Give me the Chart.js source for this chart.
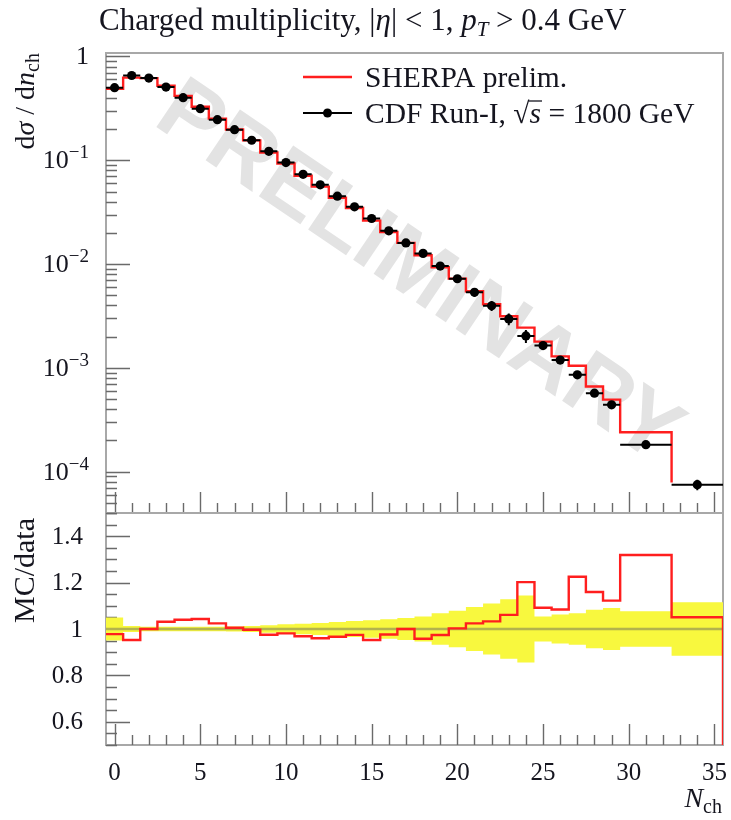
<!DOCTYPE html>
<html>
<head>
<meta charset="utf-8">
<script src="https://cdn.jsdelivr.net/npm/chart.js@4/dist/chart.umd.min.js"></script>
<style>
  html, body { margin: 0; padding: 0; background: #fff; }
  #wrap { position: relative; width: 731px; height: 820px; overflow: hidden; }
  canvas { position: absolute; left: 0; }
  #main { top: 0; }
  #ratio { top: 500px; }
</style>
</head>
<body>
<div id="wrap">
  <canvas id="main" width="731" height="520"></canvas>
  <canvas id="ratio" width="731" height="320"></canvas>
</div>
<script>
// Charged multiplicity bins (centres and edges); last two bins are 3 units wide
const nch = [0,1,2,3,4,5,6,7,8,9,10,11,12,13,14,15,16,17,18,19,20,21,22,23,24,25,26,27,28,29,31,34];
const binEdges = [-0.5,0.5,1.5,2.5,3.5,4.5,5.5,6.5,7.5,8.5,9.5,10.5,11.5,12.5,13.5,14.5,15.5,16.5,
                  17.5,18.5,19.5,20.5,21.5,22.5,23.5,24.5,25.5,26.5,27.5,28.5,29.5,32.5,35.5];

// CDF Run-I measurement, dsigma/dn_ch
const cdfData = [0.50,0.656,0.619,0.507,0.401,0.314,0.246,0.197,0.156,0.122,0.095,0.0733,0.058,0.0451,
                 0.0356,0.0275,0.0209,0.0160,0.01268,0.00957,0.00722,0.00534,0.00397,0.00296,0.00203,
                 0.00164,0.00119,0.000857,0.000571,0.000441,0.000182,0.000075];
// relative uncertainty of the measurement
const cdfRelErr = [0.05,0.013,0.01,0.01,0.01,0.01,0.01,0.011,0.013,0.016,0.02,0.023,0.026,0.03,0.034,
                   0.038,0.042,0.047,0.054,0.068,0.079,0.095,0.11,0.128,0.144,0.054,0.063,0.068,0.083,
                   0.09,0.077,0.115];
// SHERPA prediction
const sherpaMC = [0.489,0.625,0.619,0.523,0.417,0.3275,0.252,0.198,0.1555,0.119,0.0932,0.0710,0.0557,
                  0.0436,0.0347,0.0262,0.0204,0.0160,0.01215,0.00932,0.00724,0.00547,0.00410,0.00314,
                  0.00244,0.00179,0.00129,0.00105,0.000662,0.000495,0.000240,0.0000788];

// axis ticks and labels
const xTickValues = [0,5,10,15,20,25,30,35];
const xTickLabels = ['0','5','10','15','20','25','30','35'];
const logDecades = [0,-1,-2,-3,-4];
const ratioTickValues = [0.6,0.8,1,1.2,1.4];
const ratioTickLabels = ['0.6','0.8','1','1.2','1.4'];

const SERIF = '"Liberation Serif", "DejaVu Serif", serif';
const RED = '#ff1e1e';
const FRAME = '#a8a8a8';
const TICK = '#6a6a6a';
const TEXT = '#15151f';

// histogram outline as points for a stepped line
function stepPoints(vals, tail) {
  const pts = vals.map((v, i) => ({ x: binEdges[i], y: v }));
  pts.push({ x: binEdges[binEdges.length - 1], y: tail });
  return pts;
}

// draws a run of text pieces (italic / smaller / shifted) starting at x
function drawRich(ctx, x, y, parts, align) {
  const fonts = parts.map(p => (p.italic ? 'italic ' : '') + p.size + 'px ' + SERIF);
  const widths = parts.map((p, i) => { ctx.font = fonts[i]; return ctx.measureText(p.t).width; });
  const total = widths.reduce((a, b) => a + b, 0);
  let cx = align === 'right' ? x - total : (align === 'center' ? x - total / 2 : x);
  ctx.textAlign = 'left';
  ctx.textBaseline = 'alphabetic';
  const pos = [];
  parts.forEach((p, i) => {
    ctx.font = fonts[i];
    ctx.fillText(p.t, cx, y + (p.dy || 0));
    pos.push([cx, widths[i]]);
    cx += widths[i];
  });
  return pos;
}

function drawFrame(ctx, a) {
  ctx.save();
  ctx.strokeStyle = FRAME;
  ctx.lineWidth = 2;
  ctx.strokeRect(a.left, a.top, a.right - a.left, a.bottom - a.top);
  ctx.restore();
}

function drawXTicks(ctx, a, xs) {
  ctx.save();
  ctx.strokeStyle = TICK;
  ctx.lineWidth = 1.4;
  ctx.beginPath();
  for (let n = 0; n <= 35; n++) {
    const px = Math.round(xs.getPixelForValue(n)) + 0.5;
    const len = n % 5 === 0 ? 21 : 10;
    ctx.moveTo(px, a.bottom);
    ctx.lineTo(px, a.bottom - len);
  }
  ctx.stroke();
  ctx.restore();
}

// keep the plot frame exactly where the layout padding puts it
function fixX(height) {
  return s => { if (height !== undefined) s.height = height; s.paddingLeft = 0; s.paddingRight = 0; };
}
function fixY(s) { s.width = 106; s.paddingTop = 0; s.paddingBottom = 0; }

const mainDecor = {
  id: 'mainDecor',
  beforeDatasetsDraw(chart) {
    const { ctx, chartArea: a, scales: { x, y } } = chart;
    // PRELIMINARY watermark behind the curves
    ctx.save();
    ctx.beginPath();
    ctx.rect(a.left, a.top, a.right - a.left, a.bottom - a.top);
    ctx.clip();
    ctx.translate(418, 274);
    ctx.rotate(34 * Math.PI / 180);
    ctx.font = 'bold 89px "Liberation Sans", Arial, sans-serif';
    ctx.fillStyle = '#e3e3e3';
    ctx.textAlign = 'center';
    ctx.textBaseline = 'middle';
    ctx.fillText('PRELIMINARY', 0, 0);
    ctx.restore();

    drawFrame(ctx, a);
    // log-axis tick marks pointing into the frame
    ctx.save();
    ctx.strokeStyle = TICK;
    ctx.lineWidth = 1.4;
    ctx.beginPath();
    for (let d = -5; d <= 0; d++) {
      for (let m = 1; m <= 9; m++) {
        const v = m * Math.pow(10, d);
        if (v < y.min || v > y.max) continue;
        const py = Math.round(y.getPixelForValue(v)) + 0.5;
        ctx.moveTo(a.left, py);
        ctx.lineTo(a.left + (m === 1 ? 24 : 11), py);
      }
    }
    ctx.stroke();
    ctx.restore();
    drawXTicks(ctx, a, x);
  },
  afterDatasetsDraw(chart) {
    const { ctx, scales: { x, y } } = chart;
    ctx.save();
    ctx.strokeStyle = '#000';
    ctx.lineWidth = 2;
    ctx.beginPath();
    nch.forEach((n, i) => {
      const cy = y.getPixelForValue(cdfData[i]);
      const cx = x.getPixelForValue(n);
      ctx.moveTo(x.getPixelForValue(binEdges[i]), cy);
      ctx.lineTo(x.getPixelForValue(binEdges[i + 1]), cy);
      ctx.moveTo(cx, y.getPixelForValue(cdfData[i] * (1 + cdfRelErr[i])));
      ctx.lineTo(cx, y.getPixelForValue(cdfData[i] * (1 - cdfRelErr[i])));
    });
    ctx.stroke();
    ctx.restore();
  },
  afterDraw(chart) {
    const { ctx, chartArea: a, scales: { y } } = chart;
    ctx.save();
    ctx.fillStyle = TEXT;
    // title
    drawRich(ctx, 99, 30, [
      { t: 'Charged multiplicity, |', size: 31 },
      { t: 'η', size: 31, italic: true },
      { t: '| < 1, ', size: 31 },
      { t: 'p', size: 31, italic: true },
      { t: 'T', size: 21, italic: true, dy: 6 },
      { t: ' > 0.4 GeV', size: 31 }
    ]);
    // y-axis title
    ctx.save();
    ctx.translate(34, a.top);
    ctx.rotate(-Math.PI / 2);
    drawRich(ctx, 0, 0, [
      { t: 'd', size: 28 },
      { t: 'σ', size: 28, italic: true },
      { t: ' / d', size: 28 },
      { t: 'n', size: 28, italic: true },
      { t: 'ch', size: 20, dy: 5 }
    ], 'right');
    ctx.restore();
    // decade labels
    logDecades.forEach(d => {
      const py = y.getPixelForValue(Math.pow(10, d));
      if (d === 0) {
        drawRich(ctx, 89, py + 8, [{ t: '1', size: 26 }], 'right');
      } else {
        drawRich(ctx, 89, py + 8, [
          { t: '10', size: 26 },
          { t: '−' + (-d), size: 19, dy: -10 }
        ], 'right');
      }
    });
    // legend
    ctx.strokeStyle = RED;
    ctx.lineWidth = 2.5;
    ctx.beginPath();
    ctx.moveTo(303, 77); ctx.lineTo(352, 77);
    ctx.stroke();
    drawRich(ctx, 365, 87, [{ t: 'SHERPA prelim.', size: 29.5 }]);
    ctx.strokeStyle = '#000';
    ctx.lineWidth = 2;
    ctx.beginPath();
    ctx.moveTo(303, 113); ctx.lineTo(352, 113);
    ctx.stroke();
    ctx.beginPath();
    ctx.arc(327.5, 113, 4.5, 0, Math.PI * 2);
    ctx.fillStyle = '#000';
    ctx.fill();
    ctx.fillStyle = TEXT;
    const pos = drawRich(ctx, 365, 123, [
      { t: 'CDF Run-I, ', size: 29.5 },
      { t: '√', size: 29.5 },
      { t: 's', size: 29.5, italic: true },
      { t: ' = 1800 GeV', size: 29.5 }
    ]);
    ctx.strokeStyle = TEXT;
    ctx.lineWidth = 1.3;
    ctx.beginPath();
    ctx.moveTo(pos[1][0] + pos[1][1] - 1, 123 - 22);
    ctx.lineTo(pos[2][0] + pos[2][1] + 1, 123 - 22);
    ctx.stroke();
    ctx.restore();
  }
};

const ratioDecor = {
  id: 'ratioDecor',
  beforeDatasetsDraw(chart) {
    const { ctx, chartArea: a, scales: { x, y } } = chart;
    drawFrame(ctx, a);
    ctx.save();
    ctx.strokeStyle = TICK;
    ctx.lineWidth = 1.4;
    ctx.beginPath();
    for (let k = 10; k <= 30; k++) {
      const v = k * 0.05;
      const py = Math.round(y.getPixelForValue(v)) + 0.5;
      const major = k % 4 === 0;
      ctx.moveTo(a.left, py);
      ctx.lineTo(a.left + (major ? 24 : 11), py);
    }
    ctx.stroke();
    ctx.restore();
    drawXTicks(ctx, a, x);
  },
  afterDraw(chart) {
    const { ctx, chartArea: a } = chart;
    ctx.save();
    ctx.fillStyle = TEXT;
    ctx.translate(34, a.top + 5);
    ctx.rotate(-Math.PI / 2);
    drawRich(ctx, 0, 0, [{ t: 'MC/data', size: 30 }], 'right');
    ctx.restore();
    ctx.save();
    ctx.fillStyle = TEXT;
    drawRich(ctx, 722, 307, [
      { t: 'N', size: 28, italic: true },
      { t: 'ch', size: 20, dy: 6 }
    ], 'right');
    ctx.restore();
  }
};

const ratioVals = sherpaMC.map((m, i) => m / cdfData[i]);
const lastErr = cdfRelErr[cdfRelErr.length - 1];

new Chart(document.getElementById('main'), {
  type: 'line',
  data: {
    datasets: [
      {
        type: 'scatter',
        label: 'CDF Run-I',
        data: nch.map((n, i) => ({ x: n, y: cdfData[i] })),
        pointRadius: 4.6,
        pointBackgroundColor: '#000',
        pointBorderWidth: 0,
        order: 0
      },
      {
        label: 'SHERPA prelim.',
        data: stepPoints(sherpaMC, 0),
        stepped: 'before',
        borderColor: RED,
        borderWidth: 2.4,
        pointRadius: 0,
        fill: false,
        order: 1
      }
    ]
  },
  options: {
    responsive: false,
    animation: false,
    devicePixelRatio: 1,
    layout: { autoPadding: false, padding: { left: 0, right: 8, top: 53, bottom: 7 } },
    plugins: { legend: { display: false }, tooltip: { enabled: false } },
    scales: {
      x: { type: 'linear', min: -0.5, max: 35.5, display: false, afterFit: fixX() },
      y: {
        type: 'logarithmic', min: 4.0e-5, max: 1.08,
        grid: { display: false }, border: { display: false },
        ticks: { display: false },
        afterFit: fixY
      }
    }
  },
  plugins: [mainDecor]
});

new Chart(document.getElementById('ratio'), {
  type: 'line',
  data: {
    datasets: [
      {
        label: 'band-up',
        data: stepPoints(cdfRelErr.map(e => 1 + e), 1 + lastErr),
        stepped: 'before', pointRadius: 0, borderWidth: 0,
        backgroundColor: '#f8f83e', fill: '+1', order: 3
      },
      {
        label: 'band-down',
        data: stepPoints(cdfRelErr.map(e => 1 - e), 1 - lastErr),
        stepped: 'before', pointRadius: 0, borderWidth: 0, fill: false, order: 4
      },
      {
        label: 'data',
        data: [{ x: -0.5, y: 1 }, { x: 35.5, y: 1 }],
        borderColor: 'rgba(95,95,95,0.45)', borderWidth: 2.5, pointRadius: 0, fill: false, order: 2
      },
      {
        label: 'SHERPA prelim.',
        data: stepPoints(ratioVals, 0),
        stepped: 'before', borderColor: RED, borderWidth: 2.4, pointRadius: 0, fill: false, order: 0
      }
    ]
  },
  options: {
    responsive: false,
    animation: false,
    devicePixelRatio: 1,
    layout: { autoPadding: false, padding: { left: 0, right: 8, top: 13, bottom: 0 } },
    plugins: { legend: { display: false }, tooltip: { enabled: false } },
    scales: {
      x: {
        type: 'linear', min: -0.5, max: 35.5,
        grid: { display: false }, border: { display: false },
        ticks: {
          stepSize: 5, includeBounds: false, autoSkip: false, maxRotation: 0,
          padding: 5, color: TEXT, font: { family: SERIF, size: 25 },
          callback: v => { const k = xTickValues.indexOf(v); return k >= 0 ? xTickLabels[k] : ''; }
        },
        afterFit: fixX(75)
      },
      y: {
        type: 'linear', min: 0.5, max: 1.5,
        grid: { display: false }, border: { display: false },
        ticks: {
          stepSize: 0.05, includeBounds: false, autoSkip: false,
          padding: 15, labelOffset: 1, color: TEXT, font: { family: SERIF, size: 25 },
          callback: v => {
            const k = ratioTickValues.findIndex(t => Math.abs(t - v) < 1e-6);
            return k >= 0 ? ratioTickLabels[k] : '';
          }
        },
        afterFit: fixY
      }
    }
  },
  plugins: [ratioDecor]
});
</script>
</body>
</html>
